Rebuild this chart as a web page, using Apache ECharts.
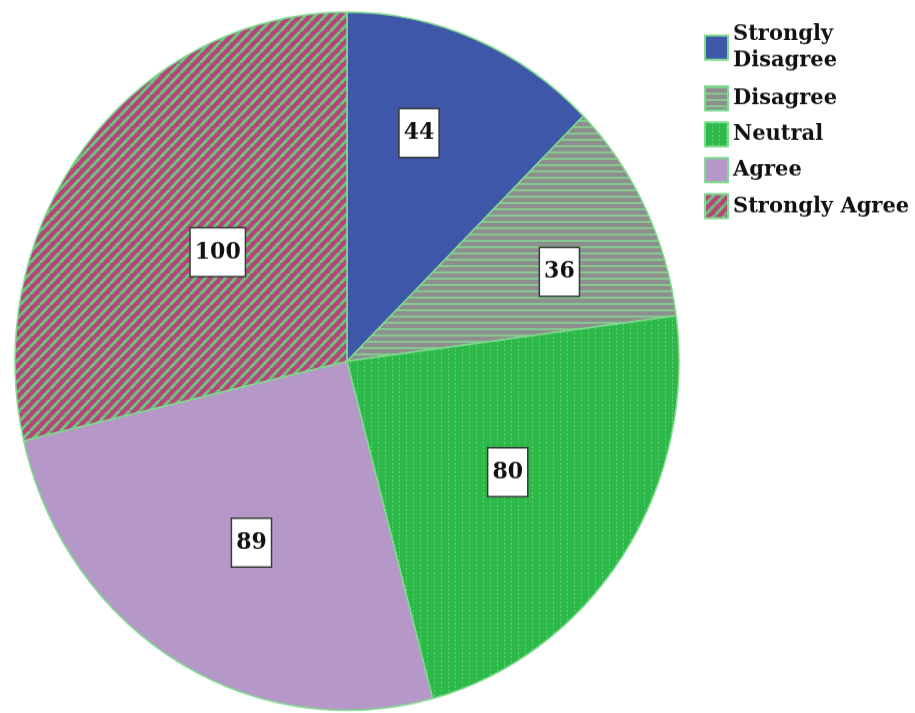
<!DOCTYPE html>
<html>
<head>
<meta charset="utf-8">
<script src="https://cdn.jsdelivr.net/npm/echarts@6/dist/echarts.min.js"></script>
<style>
  html, body { margin: 0; padding: 0; background: #ffffff; width: 915px; height: 713px; overflow: hidden; }
  #frame { width: 915px; height: 713px; position: relative; }
  /* the chart is drawn slightly squat and stretched vertically to fill 713px */
  #chart { position: absolute; left: 0; top: 0; width: 915px; height: 678px; transform: scaleY(1.0516); transform-origin: 0 0; }
</style>
</head>
<body>
<div id="frame"><div id="chart"></div></div>
<script>
// Survey response counts
const categories = ['Strongly\nDisagree', 'Disagree', 'Neutral', 'Agree', 'Strongly Agree'];
const counts = [44, 36, 80, 89, 100];

// Value box placement: distance out along the radius (fraction of radius)
// and a small turn (degrees) away from the slice's middle angle
const labelDepth = [0.68, 0.68, 0.57, 0.585, 0.49];
const labelTurn = [-4.4, 4.3, -0.5, -2, 0.3];

const CX = 347, CY = 343.5, R = 332;
const EDGE = '#7fdc8e';
const FONT = 'DejaVu Serif';

function makeTile(w, h, draw) {
  const c = document.createElement('canvas');
  c.width = w; c.height = h;
  draw(c.getContext('2d'), w, h);
  return { image: c, repeat: 'repeat' };
}

// Grey with thin horizontal green lines
const horizStripes = makeTile(6, 6, (g, w, h) => {
  g.fillStyle = '#8e8e8e'; g.fillRect(0, 0, w, h);
  g.fillStyle = '#86c990'; g.fillRect(0, 0, w, 2);
});

// Green with faint dotted vertical lines
const dottedGreen = makeTile(7, 4, (g, w, h) => {
  g.fillStyle = '#2db84a'; g.fillRect(0, 0, w, h);
  g.fillStyle = '#62cf74'; g.fillRect(0, 0, 1, 2);
});

// Magenta with diagonal green stripes
const diagStripes = makeTile(10, 10, (g, w, h) => {
  g.fillStyle = '#b8427c'; g.fillRect(0, 0, w, h);
  g.strokeStyle = '#6cc67c'; g.lineWidth = 3;
  for (let k = -1; k <= 1; k++) {
    g.beginPath();
    g.moveTo(k * w, h);
    g.lineTo(k * w + w, 0);
    g.stroke();
  }
});

const fills = ['#3e57a9', horizStripes, dottedGreen, '#b698c8', diagStripes];

const total = counts.reduce((a, b) => a + b, 0);
let acc = 0;
const pieData = counts.map((v, i) => {
  const mid = (acc + v / 2) / total * 2 * Math.PI;
  acc += v;
  // 'inside' puts the label at half the radius on the middle angle; move it from there
  const a = mid + labelTurn[i] * Math.PI / 180;
  const d = labelDepth[i] * R;
  const dx = d * Math.sin(a) - 0.5 * R * Math.sin(mid);
  const dy = -d * Math.cos(a) + 0.5 * R * Math.cos(mid);
  return {
    name: categories[i],
    value: v,
    itemStyle: { color: fills[i] },
    label: { offset: [dx, dy] }
  };
});

const legendData = categories.map((c, i) => i === 0
  ? { name: c, textStyle: { padding: [0, 0, 2.5, 0] } }
  : { name: c });

const chart = echarts.init(document.getElementById('chart'), null, { renderer: 'canvas' });
chart.setOption({
  animation: false,
  backgroundColor: '#ffffff',
  legend: {
    orient: 'vertical',
    left: 699,
    top: 13.5,
    itemWidth: 23,
    itemHeight: 23,
    itemGap: 8.7,
    icon: 'rect',
    selectedMode: false,
    itemStyle: { borderColor: EDGE, borderWidth: 2 },
    textStyle: {
      fontFamily: FONT,
      fontWeight: 'bold',
      fontSize: 21,
      lineHeight: 25.5,
      color: '#111111'
    },
    data: legendData
  },
  series: [{
    type: 'pie',
    center: [CX, CY],
    radius: R,
    startAngle: 90,
    clockwise: true,
    silent: true,
    itemStyle: { borderColor: EDGE, borderWidth: 1.5 },
    labelLine: { show: false },
    label: {
      show: true,
      position: 'inside',
      formatter: '{c}',
      fontFamily: FONT,
      fontWeight: 'bold',
      fontSize: 22,
      lineHeight: 24,
      color: '#111111',
      backgroundColor: '#ffffff',
      borderColor: '#3a3a3a',
      borderWidth: 1.5,
      padding: [11, 4, 10, 4]
    },
    data: pieData
  }]
});
</script>
</body>
</html>
